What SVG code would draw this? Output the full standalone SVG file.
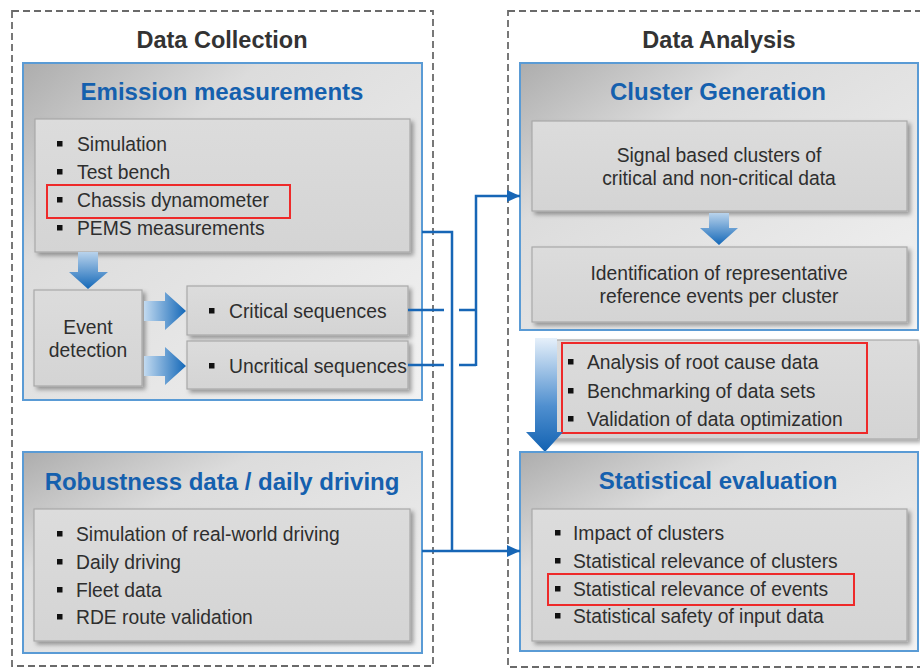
<svg xmlns="http://www.w3.org/2000/svg" width="920" height="669" viewBox="0 0 920 669">
<defs>
<linearGradient id="panelGrad" x1="0" y1="0" x2="1" y2="1">
<stop offset="0" stop-color="#adadad"/>
<stop offset="0.3" stop-color="#dcdcdc"/>
<stop offset="1" stop-color="#f2f2f2"/>
</linearGradient>
<linearGradient id="boxGrad" x1="0" y1="0" x2="0" y2="1">
<stop offset="0" stop-color="#dcdcdc"/>
<stop offset="1" stop-color="#d4d4d4"/>
</linearGradient>
<linearGradient id="arrowDown" x1="0" y1="0" x2="0" y2="1">
<stop offset="0" stop-color="#b9d3ec"/>
<stop offset="1" stop-color="#1468b8"/>
</linearGradient>
<linearGradient id="arrowRight" x1="0" y1="0" x2="1" y2="0">
<stop offset="0" stop-color="#c2daf0"/>
<stop offset="1" stop-color="#1468b8"/>
</linearGradient>
<linearGradient id="bigDown" x1="0" y1="0" x2="0" y2="1">
<stop offset="0" stop-color="#e6f0fa"/>
<stop offset="0.6" stop-color="#4f8fcf"/>
<stop offset="1" stop-color="#1262b2"/>
</linearGradient>
<filter id="shadow" x="-10%" y="-10%" width="125%" height="130%">
<feDropShadow dx="3" dy="3" stdDeviation="2" flood-color="#000" flood-opacity="0.35"/>
</filter>
<marker id="arrowHead" markerWidth="14" markerHeight="14" refX="13" refY="7" orient="auto" markerUnits="userSpaceOnUse">
<path d="M0,1 L13,7 L0,13 Z" fill="#1766b6"/>
</marker>
<style>
.outer{fill:none;stroke:#6a6a6a;stroke-width:1.8;stroke-dasharray:7,4}
.group-title{font-family:"Liberation Sans",Arial,sans-serif;font-weight:bold;font-size:23.5px;fill:#333;text-anchor:middle}
.panel{fill:url(#panelGrad);stroke:#5a9bd5;stroke-width:2}
.panel-title{font-family:"Liberation Sans",Arial,sans-serif;font-weight:bold;font-size:24px;fill:#1560ae;text-anchor:middle}
.box{fill:url(#boxGrad);stroke:#a8a8a8;stroke-width:1.2;filter:url(#shadow)}
.t{font-family:"Liberation Sans",Arial,sans-serif;font-size:19.3px;fill:#2e2e2e}
.tc{font-family:"Liberation Sans",Arial,sans-serif;font-size:19.3px;fill:#2e2e2e;text-anchor:middle}
.bul{fill:#111}
.hl{fill:none;stroke:#ee2a2a;stroke-width:2}
.conn{fill:none;stroke:#1766b6;stroke-width:2.5}
</style>
</defs>
<rect width="920" height="669" fill="#ffffff"/>

<g id="data-collection">
<rect class="outer" x="12" y="11" width="421" height="655"/>
<text class="group-title" x="222" y="48">Data Collection</text>
</g>
<g id="data-analysis">
<rect class="outer" x="508" y="11" width="430" height="656"/>
<text class="group-title" x="719" y="48">Data Analysis</text>
</g>

<g id="emission-measurements">
<rect class="panel" x="23" y="63" width="399" height="337"/>
<text class="panel-title" x="222" y="100">Emission measurements</text>
<rect class="box" x="35" y="119" width="375" height="133"/>
<rect class="bul" x="57" y="141" width="5.5" height="5.5"/>
<text class="t" x="77" y="151">Simulation</text>
<rect class="bul" x="57" y="169" width="5.5" height="5.5"/>
<text class="t" x="77" y="179">Test bench</text>
<rect class="bul" x="57" y="197" width="5.5" height="5.5"/>
<text class="t" x="77" y="207">Chassis dynamometer</text>
<rect class="bul" x="57" y="225" width="5.5" height="5.5"/>
<text class="t" x="77" y="235">PEMS measurements</text>
<rect class="hl" x="47" y="185" width="243" height="33"/>
</g>

<g id="arrow-to-event">
<path d="M78,252 H98 V272 H108 L88,289 L69,272 H78 Z" fill="url(#arrowDown)"/>
</g>

<g id="event-detection">
<rect class="box" x="34" y="290" width="108" height="96"/>
<text class="tc" x="88" y="334">Event</text>
<text class="tc" x="88" y="357">detection</text>
</g>

<g id="arrows-to-sequences">
<path d="M144,301 H165 V292 L186,311 L165,330 V321 H144 Z" fill="url(#arrowRight)"/>
<path d="M144,356 H165 V347 L186,366 L165,385 V376 H144 Z" fill="url(#arrowRight)"/>
</g>

<g id="critical-sequences">
<rect class="box" x="187" y="286" width="221" height="49"/>
<rect class="bul" x="209" y="308" width="5.5" height="5.5"/>
<text class="t" x="229" y="318">Critical sequences</text>
</g>

<g id="uncritical-sequences">
<rect class="box" x="187" y="341" width="221" height="48"/>
<rect class="bul" x="209" y="363" width="5.5" height="5.5"/>
<text class="t" x="229" y="373">Uncritical sequences</text>
</g>

<g id="robustness-data">
<rect class="panel" x="23" y="452" width="399" height="201"/>
<text class="panel-title" x="222" y="490">Robustness data / daily driving</text>
<rect class="box" x="34" y="509" width="376" height="132"/>
<rect class="bul" x="57" y="531" width="5.5" height="5.5"/>
<text class="t" x="76" y="541">Simulation of real-world driving</text>
<rect class="bul" x="57" y="559" width="5.5" height="5.5"/>
<text class="t" x="76" y="569">Daily driving</text>
<rect class="bul" x="57" y="587" width="5.5" height="5.5"/>
<text class="t" x="76" y="597">Fleet data</text>
<rect class="bul" x="57" y="614" width="5.5" height="5.5"/>
<text class="t" x="76" y="624">RDE route validation</text>
</g>

<g id="cluster-generation">
<rect class="panel" x="520" y="63" width="398" height="267"/>
<text class="panel-title" x="718" y="100">Cluster Generation</text>
<rect class="box" x="532" y="121" width="375" height="90"/>
<text class="tc" x="719" y="162">Signal based clusters of</text>
<text class="tc" x="719" y="185">critical and non-critical data</text>
<path d="M709,213 H729 V228 H738 L719,245 L700,228 H709 Z" fill="url(#arrowDown)"/>
<rect class="box" x="532" y="247" width="375" height="75"/>
<text class="tc" x="719" y="280">Identification of representative</text>
<text class="tc" x="719" y="303">reference events per cluster</text>
</g>

<g id="analysis-tasks">
<rect class="box" x="547" y="340" width="371" height="99"/>
<rect class="bul" x="568" y="359" width="5.5" height="5.5"/>
<text class="t" x="587" y="369">Analysis of root cause data</text>
<rect class="bul" x="568" y="388" width="5.5" height="5.5"/>
<text class="t" x="587" y="398">Benchmarking of data sets</text>
<rect class="bul" x="568" y="416" width="5.5" height="5.5"/>
<text class="t" x="587" y="426">Validation of data optimization</text>
<rect class="hl" x="562" y="343" width="305" height="90"/>
</g>

<g id="arrow-to-statistics">
<path d="M535,338 H557 V432 H563 L545,452 L526,432 H535 Z" fill="url(#bigDown)"/>
</g>

<g id="statistical-evaluation">
<rect class="panel" x="520" y="452" width="398" height="199"/>
<text class="panel-title" x="718" y="489">Statistical evaluation</text>
<rect class="box" x="532" y="509" width="375" height="132"/>
<rect class="bul" x="555" y="530" width="5.5" height="5.5"/>
<text class="t" x="573" y="540">Impact of clusters</text>
<rect class="bul" x="555" y="558" width="5.5" height="5.5"/>
<text class="t" x="573" y="568">Statistical relevance of clusters</text>
<rect class="bul" x="555" y="586" width="5.5" height="5.5"/>
<text class="t" x="573" y="596">Statistical relevance of events</text>
<rect class="bul" x="555" y="613" width="5.5" height="5.5"/>
<text class="t" x="573" y="623">Statistical safety of input data</text>
<rect class="hl" x="548" y="574" width="306" height="31"/>
</g>

<g id="connectors">
<path class="conn" d="M422,232 H452 V551"/>
<path class="conn" d="M422,551 H520" marker-end="url(#arrowHead)"/>
<path class="conn" d="M408,310 H444"/>
<path class="conn" d="M459,310 H476"/>
<path class="conn" d="M408,365 H444"/>
<path class="conn" d="M459,365 H476"/>
<path class="conn" d="M476,366 V196 H520" marker-end="url(#arrowHead)"/>
</g>
</svg>
